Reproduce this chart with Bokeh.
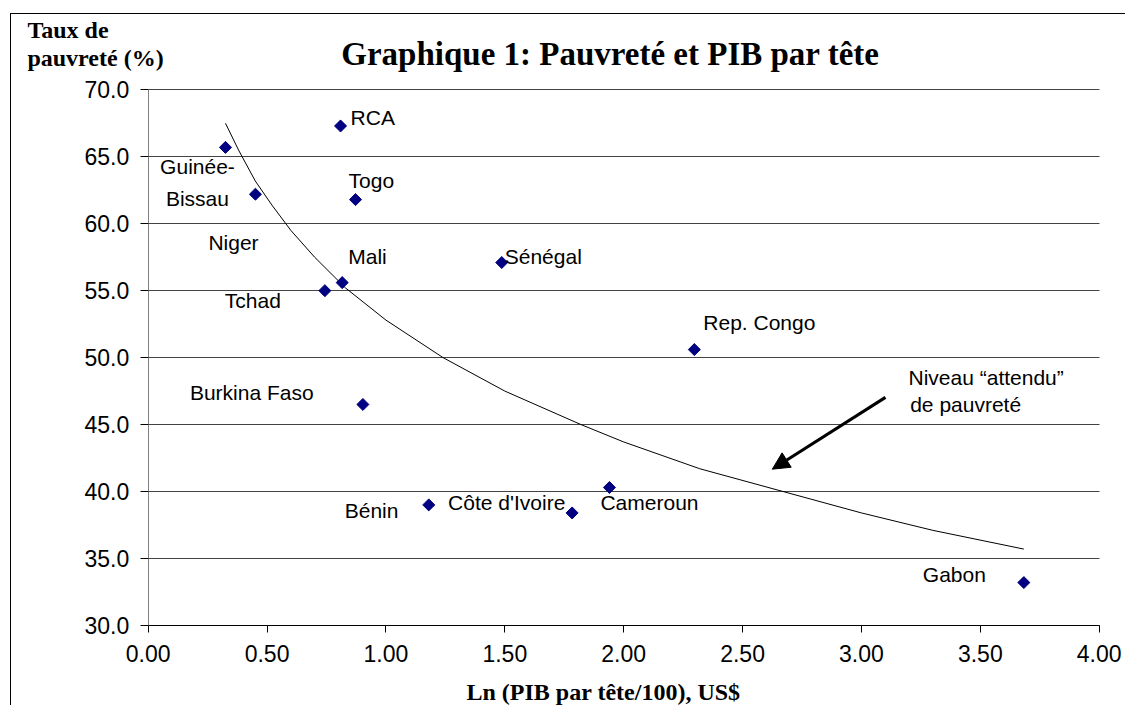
from bokeh.plotting import figure
from bokeh.models import (Label, Arrow, NormalHead, FixedTicker, NumeralTickFormatter,
                          Range1d, ColumnDataSource)
from bokeh.core.properties import value
from bokeh.embed import file_html
from bokeh.resources import INLINE

# ---- data ----
countries = ["Guinée-\nBissau", "Niger", "RCA", "Togo", "Mali", "Tchad", "Sénégal",
             "Burkina Faso", "Bénin", "Côte d'Ivoire", "Cameroun", "Rep. Congo", "Gabon"]
ln_pib = [0.325, 0.451, 0.809, 0.872, 0.816, 0.743, 1.487, 0.903, 1.180, 1.783, 1.940, 2.297, 3.683]
pauvrete = [65.7, 62.2, 67.3, 61.8, 55.6, 55.0, 57.1, 46.5, 39.0, 38.4, 40.3, 50.6, 33.2]

# "expected" poverty curve
curve_x = [0.325, 0.38, 0.45, 0.52, 0.60, 0.70, 0.83, 1.00, 1.24, 1.50, 1.82, 2.00, 2.32,
           2.67, 3.00, 3.30, 3.683]
curve_y = [67.5, 65.5, 63.2, 61.4, 59.5, 57.5, 55.2, 52.8, 50.0, 47.5, 45.0, 43.7, 41.7,
           40.0, 38.4, 37.1, 35.7]

x_ticks = [0.0, 0.5, 1.0, 1.5, 2.0, 2.5, 3.0, 3.5, 4.0]
y_ticks = [30, 35, 40, 45, 50, 55, 60, 65, 70]

# label placement (screen pixel offsets from each point), kept apart from the data
label_dx = [-28, -47, 10, -7, 6, -100, 3, -173, -84, -124, -9, 9, -101]
label_dy = [35, 48, -8, -19, -26, 10, -6, -12, 6, -10, 15, -27, -8]
label_align = ["center"] + ["left"] * 12

FONT = "Liberation Sans"
SERIF = "Liberation Serif"

# the frame covers the whole canvas; axes are pinned at x=0 and y=30
p = figure(x_range=Range1d(-0.575, 4.1148), y_range=Range1d(23.944, 75.624),
           width=1115, height=692,
           min_border_left=0, min_border_right=0, min_border_top=0, min_border_bottom=0,
           output_backend="svg", toolbar_location=None)
p.styles = {"border-left": "1px solid black", "border-top": "1px solid black",
            "margin-left": "10px", "margin-top": "13px"}
p.background_fill_color = "white"
p.border_fill_color = "white"
p.outline_line_color = None

# grid
p.xgrid.grid_line_color = None
p.ygrid.grid_line_color = "#444444"
p.ygrid.grid_line_width = 1
p.ygrid.ticker = FixedTicker(ticks=y_ticks)
p.ygrid.bounds = (30, 70)
p.ygrid.cross_bounds = (0, 4)

# axes
p.xaxis.ticker = FixedTicker(ticks=x_ticks)
p.yaxis.ticker = FixedTicker(ticks=y_ticks)
p.xaxis.formatter = NumeralTickFormatter(format="0.00")
p.yaxis.formatter = NumeralTickFormatter(format="0.0")
p.xaxis.fixed_location = 30
p.yaxis.fixed_location = 0
p.xaxis.bounds = (0, 4)
p.yaxis.bounds = (30, 70)
for ax in (p.xaxis[0], p.yaxis[0]):
    ax.minor_tick_line_color = None
    ax.major_tick_in = 0
    ax.major_label_text_font = FONT
    ax.major_label_text_font_size = "23px"
    ax.major_label_text_color = "black"
    ax.major_tick_line_color = "black"
p.xaxis.major_tick_out = 7
p.yaxis.major_tick_out = 8
p.xaxis.axis_line_color = "black"
p.yaxis.axis_line_color = "#808080"
p.xaxis.major_label_standoff = 13
p.yaxis.major_label_standoff = 11

# curve
p.line(curve_x, curve_y, line_color="black", line_width=1)

# points
src = ColumnDataSource(dict(x=ln_pib, y=pauvrete, name=countries,
                            dx=label_dx, dy=label_dy, align=label_align))
p.scatter("x", "y", source=src, marker="square", size=8.5, angle=0.785398,
          fill_color="#000080", line_color="#000080")
p.text("x", "y", text="name", source=src, x_offset="dx", y_offset="dy",
       text_align="align", text_baseline="middle",
       text_font=value(FONT), text_font_size="21px", text_color="black",
       text_line_height=1.4)

# arrow and its note
p.add_layout(Arrow(end=NormalHead(size=17, fill_color="black", line_color="black"),
                   x_start=3.101, y_start=47.03, x_end=2.625, y_end=41.67,
                   line_width=3, line_color="black"))
p.add_layout(Label(x=3.198, y=48.5, text="Niveau \u201cattendu\u201d", text_font=FONT,
                   text_font_size="21px", text_baseline="middle", text_align="left",
                   text_color="black"))
p.add_layout(Label(x=3.205, y=46.5, text="de pauvret\u00e9", text_font=FONT,
                   text_font_size="21px", text_baseline="middle", text_align="left",
                   text_color="black"))

# titles
p.add_layout(Label(x=1.944, y=72.64, text="Graphique 1: Pauvret\u00e9 et PIB par t\u00eate",
                   text_font=SERIF, text_font_style="bold", text_font_size="33px",
                   text_align="center", text_baseline="middle", text_color="black"))
p.add_layout(Label(x=1.915, y=25.06, text="Ln (PIB par t\u00eate/100), US$",
                   text_font=SERIF, text_font_style="bold", text_font_size="24px",
                   text_align="center", text_baseline="middle", text_color="black"))
p.add_layout(Label(x=-0.508, y=74.50, text="Taux de",
                   text_font=SERIF, text_font_style="bold", text_font_size="24px",
                   text_align="left", text_baseline="middle", text_color="black"))
p.add_layout(Label(x=-0.508, y=72.41, text="pauvret\u00e9 (%)",
                   text_font=SERIF, text_font_style="bold", text_font_size="24px",
                   text_align="left", text_baseline="middle", text_color="black"))

open("out.html", "w").write(file_html(p, INLINE))
